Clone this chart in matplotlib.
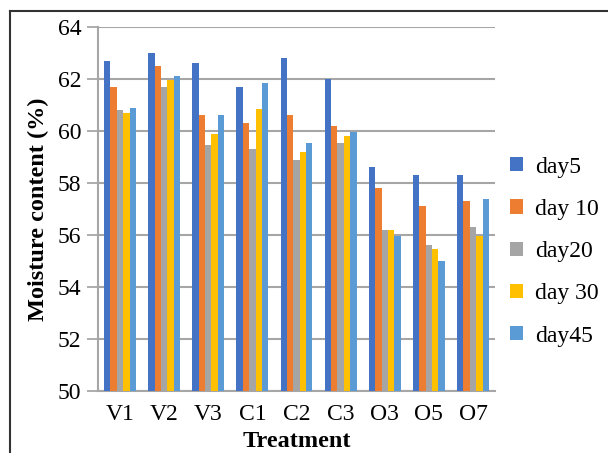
import matplotlib
matplotlib.use("Agg")
import matplotlib.pyplot as plt
import numpy as np
from matplotlib.lines import Line2D

categories = ["V1", "V2", "V3", "C1", "C2", "C3", "O3", "O5", "O7"]
series_names = ["day5", "day 10", "day20", "day 30", "day45"]
day5 = [62.7, 63.0, 62.6, 61.7, 62.8, 62.0, 58.6, 58.3, 58.3]
day10 = [61.7, 62.5, 60.6, 60.3, 60.6, 60.2, 57.8, 57.1, 57.3]
day20 = [60.8, 61.7, 59.45, 59.3, 58.9, 59.55, 56.2, 55.6, 56.3]
day30 = [60.7, 61.95, 59.9, 60.85, 59.2, 59.8, 56.2, 55.45, 55.95]
day45 = [60.9, 62.1, 60.6, 61.85, 59.55, 59.95, 55.95, 55.0, 57.4]
yticks = [50, 52, 54, 56, 58, 60, 62, 64]

colors = ["#4472C4", "#ED7D31", "#A5A5A5", "#FFC000", "#5B9BD5"]
series = [day5, day10, day20, day30, day45]

plt.rcParams['font.family'] = ['Liberation Serif', 'DejaVu Serif']

fig = plt.figure(figsize=(6.08, 4.53), dpi=100)
ax = fig.add_axes([98/608, 1-391/453, (495-98)/608, (391-27)/453])

x = np.arange(len(categories))
w = 0.145
for i, (vals, c, name) in enumerate(zip(series, colors, series_names)):
    ax.bar(x + (i - 2) * w, np.array(vals) - 50, bottom=50, width=w, color=c, label=name, zorder=3)

ax.set_ylim(50, 64)
ax.set_xlim(-0.5, len(categories) - 0.5)
ax.set_yticks(yticks)
ax.set_yticklabels([str(t) for t in yticks], fontsize=17)
ax.set_xticks(x)
ax.set_xticklabels(categories, fontsize=17)
ax.tick_params(axis='x', length=0, pad=9)
ax.tick_params(axis='y', length=8, width=1.2, color="#A0A0A0", pad=4)
ax.yaxis.grid(True, color="#A6A6A6", linewidth=1.5, zorder=0)
for s in ["top", "right"]:
    ax.spines[s].set_visible(False)
ax.spines["left"].set_color("#A6A6A6")
ax.spines["left"].set_linewidth(1.5)
ax.spines["bottom"].set_color("#A6A6A6")
ax.spines["bottom"].set_linewidth(1.5)

ax.set_ylabel("Moisture content (%)", fontsize=17.5, fontweight="bold", labelpad=6)
ax.set_xlabel("Treatment", fontsize=17.5, fontweight="bold", labelpad=5)

leg = ax.legend(loc="upper left", bbox_to_anchor=(1.015, 0.67), frameon=False,
                fontsize=17, handlelength=0.55, handleheight=0.55, labelspacing=0.9,
                handletextpad=0.5, borderaxespad=0)

# figure frame (left and top)
fig.add_artist(Line2D([10/608, 10/608], [0, 1-11/453], color="#333333", linewidth=1.5))
fig.add_artist(Line2D([10/608, 1], [1-11/453, 1-11/453], color="#333333", linewidth=1.5))

fig.savefig("out.png", dpi=100)
